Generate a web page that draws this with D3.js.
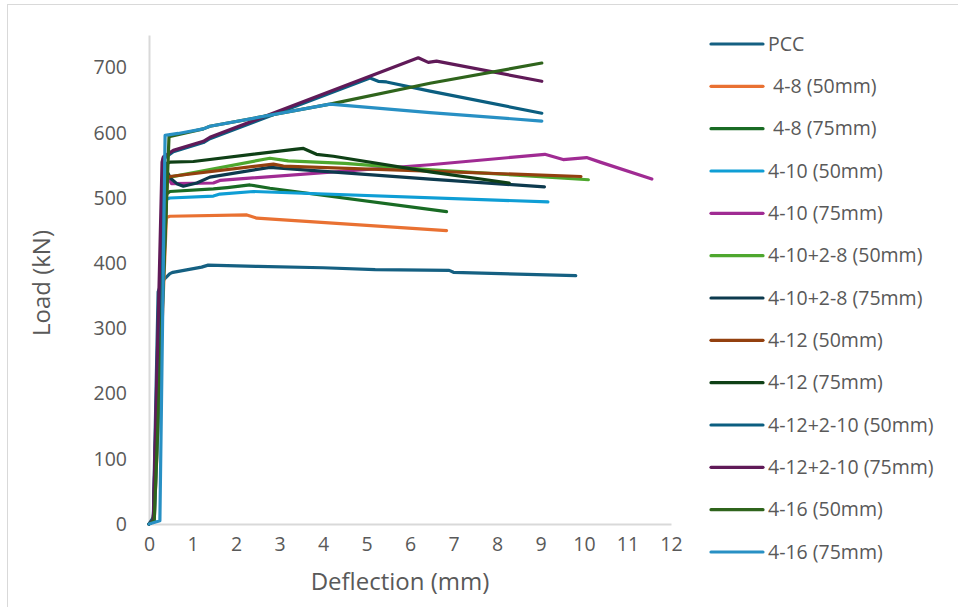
<!DOCTYPE html>
<html>
<head>
<meta charset="utf-8">
<script src="https://cdn.jsdelivr.net/npm/d3@7"></script>
<style>
  html, body { margin: 0; padding: 0; background: #fff; }
  svg text { font-family: "Open Sans", "Liberation Sans", sans-serif; fill: #595959; }
</style>
</head>
<body>
<svg id="chart" width="958" height="607"></svg>
<script>
// ---- Data (deflection mm, load kN) ----
const seriesNames = ["PCC", " 4-8 (50mm)", " 4-8 (75mm)", "4-10 (50mm)", "4-10 (75mm)",
  "4-10+2-8 (50mm)", "4-10+2-8 (75mm)", "4-12 (50mm)", "4-12 (75mm)",
  "4-12+2-10 (50mm)", "4-12+2-10 (75mm)", "4-16 (50mm)", "4-16 (75mm)"];
const seriesColors = ["#156082", "#E97132", "#196B24", "#0F9ED5", "#A02B93", "#4EA72E",
  "#0D3A4E", "#93400F", "#0F4016", "#0B5E80", "#601A58", "#2F641C", "#2890C4"];

const pcc = [[0,0],[0.1,10],[0.21,356],[0.3,372],[0.48,384],[0.55,386],[1.21,394],[1.36,397],[2.5,395],[4,393],[5.2,390],[6.9,389],[7.0,386],[9.81,381]];
const s48_50 = [[0,0],[0.12,5],[0.4,470],[0.48,472],[2.25,474],[2.48,469],[6.84,450]];
const s48_75 = [[0,0],[0.1,5],[0.38,505],[0.48,510],[1.48,514],[1.8,516],[2.32,520],[2.78,515],[6.84,479]];
const s410_50 = [[0,0],[0.12,5],[0.4,498],[0.48,500],[1.48,503],[1.63,506],[2.4,510],[9.17,494]];
const s410_75 = [[0,0],[0.1,5],[0.33,562],[0.45,530],[0.52,522],[1.48,523],[1.63,527],[6.46,551],[9.10,567],[9.52,559],[10.06,562],[10.37,555],[11.56,529]];
const s410_28_50 = [[0,0],[0.1,5],[0.4,528],[0.48,532],[2.78,561],[3.2,557],[4.5,553],[6.5,543],[8,537],[10.1,528]];
const s410_28_75 = [[0,0],[0.1,5],[0.42,540],[0.5,530],[0.64,522],[0.79,518],[1.10,523],[1.40,532],[2.78,547],[6.46,529],[9.09,517]];
const s412_50 = [[0,0],[0.1,5],[0.42,530],[0.48,533],[2.86,552],[3.09,549],[9.93,533]];
const s412_75 = [[0,0],[0.1,5],[0.4,553],[0.48,555],[1.02,556],[3.39,575],[3.55,576],[3.85,567],[4.24,564],[6.46,540],[8.28,523]];
const s412_210_50 = [[0,0],[0.1,5],[0.33,560],[0.56,571],[1.25,585],[1.40,591],[5.08,684],[5.27,679],[5.46,678],[6.46,664],[9.03,630]];
const s412_210_75 = [[0,0],[0.1,5],[0.3,555],[0.33,563],[0.56,573],[1.25,587],[1.40,593],[6.19,715],[6.42,708],[6.61,710],[9.03,679]];
const s416_50 = [[0,0],[0.12,5],[0.46,594],[1.25,606],[1.40,610],[4.16,644],[6.46,676],[9.03,707]];
const s416_75 = [[0,0],[0.25,5],[0.37,596],[0.67,599],[1.25,606],[1.40,610],[4.16,644],[6.46,631],[9.03,618]];

const seriesData = [pcc, s48_50, s48_75, s410_50, s410_75, s410_28_50, s410_28_75,
  s412_50, s412_75, s412_210_50, s412_210_75, s416_50, s416_75];

const xTicks = [0,1,2,3,4,5,6,7,8,9,10,11,12];
const yTicks = [0,100,200,300,400,500,600,700];

// ---- Layout ----
const svg = d3.select("#chart");
svg.append("rect").attr("x", 7.5).attr("y", 4.5).attr("width", 960).attr("height", 610)
  .attr("fill", "#fff").attr("stroke", "#d9d9d9").attr("stroke-width", 1);

const x = d3.scaleLinear().domain([0, 12]).range([149, 671]);
const y = d3.scaleLinear().domain([0, 750]).range([524, 35]);

// axes
const xAxis = svg.append("g").attr("transform", "translate(0,524)")
  .call(d3.axisBottom(x).tickValues(xTicks).tickSize(0).tickPadding(13).tickFormat(d3.format("d")));
const yAxis = svg.append("g").attr("transform", "translate(149,0)")
  .call(d3.axisLeft(y).tickValues(yTicks).tickSize(0).tickPadding(22).tickFormat(d3.format("d")));
[xAxis, yAxis].forEach(g => {
  g.select(".domain").attr("stroke", "#d9d9d9").attr("stroke-width", 2);
  g.selectAll("text").style("font-size", "19.5px").attr("fill", "#595959");
});

svg.append("text").attr("x", 400).attr("y", 590).attr("text-anchor", "middle")
  .style("font-size", "24px").text("Deflection (mm)");
svg.append("text").attr("transform", "translate(50,283) rotate(-90)").attr("text-anchor", "middle")
  .style("font-size", "24px").text("Load (kN)");

// lines
const line = d3.line().x(d => x(d[0])).y(d => y(d[1]));
svg.append("g").selectAll("path").data(seriesData).join("path")
  .attr("d", d => line(d))
  .attr("fill", "none")
  .attr("stroke", (d, i) => seriesColors[i])
  .attr("stroke-width", 3.2)
  .attr("stroke-linejoin", "round")
  .attr("stroke-linecap", "round");

// legend
const leg = svg.append("g");
const legY = d3.scaleLinear().domain([0, 12]).range([44, 552]);
seriesNames.forEach((name, i) => {
  const yy = legY(i);
  leg.append("line").attr("x1", 711).attr("x2", 763).attr("y1", yy).attr("y2", yy)
    .attr("stroke", seriesColors[i]).attr("stroke-width", 3.2).attr("stroke-linecap", "round");
  leg.append("text").attr("x", 768).attr("y", yy).attr("dy", "0.35em")
    .style("font-size", "19.5px").style("white-space", "pre").attr("xml:space", "preserve").text(name);
});
</script>
</body>
</html>
